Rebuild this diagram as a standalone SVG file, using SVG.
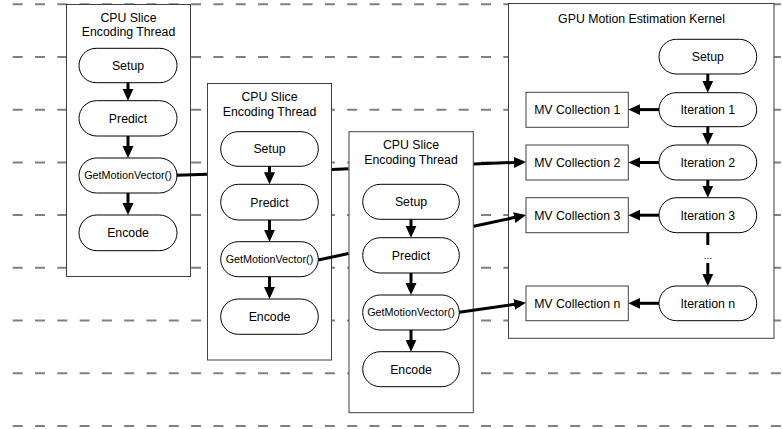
<svg xmlns="http://www.w3.org/2000/svg" width="782" height="429" viewBox="0 0 782 429">
<style>
.bg{fill:#fff}
.grid{stroke:#808080;stroke-width:2;stroke-dasharray:10 12.3;fill:none}
.box{fill:#fff;stroke:#404040;stroke-width:1}
.pill{fill:#fff;stroke:#000;stroke-width:1}
.rect{fill:#fff;stroke:#404040;stroke-width:1}
text{font-family:"Liberation Sans",Arial,sans-serif;font-size:12.3px;fill:#000;text-anchor:middle}
.small{font-size:10.8px}
.dots{font-size:10px}
.conn{stroke:#000;stroke-width:3;fill:none;marker-end:url(#ah)}
</style>
<defs>
<marker id="ah" markerUnits="userSpaceOnUse" markerWidth="12" markerHeight="12" viewBox="0 0 12 12" refX="1" refY="6" orient="auto">
<path d="M0,0.5 L12,6 L0,11.5 Z" fill="#000"/>
</marker>
</defs>
<rect class="bg" x="0" y="0" width="782" height="429"/>
<g id="gridlines">
<line class="grid" x1="12.7" y1="4.3" x2="782" y2="4.3"/>
<line class="grid" x1="12.7" y1="57" x2="782" y2="57"/>
<line class="grid" x1="12.7" y1="109.7" x2="782" y2="109.7"/>
<line class="grid" x1="12.7" y1="162.4" x2="782" y2="162.4"/>
<line class="grid" x1="12.7" y1="215.1" x2="782" y2="215.1"/>
<line class="grid" x1="12.7" y1="267.8" x2="782" y2="267.8"/>
<line class="grid" x1="12.7" y1="320.5" x2="782" y2="320.5"/>
<line class="grid" x1="12.7" y1="373.2" x2="782" y2="373.2"/>
<line class="grid" x1="12.7" y1="425.9" x2="782" y2="425.9"/>
</g>
<g id="thread1">
<rect class="box" x="66.5" y="4.5" width="124" height="272"/>
<text x="128.5" y="21.9">CPU Slice</text>
<text x="128.5" y="36">Encoding Thread</text>
<g id="t1-setup"><rect class="pill" x="79" y="48.3" width="98" height="34.4" rx="17.2"/><text x="128" y="69.9">Setup</text></g>
<g id="t1-predict"><rect class="pill" x="79" y="100.7" width="98" height="35.3" rx="17.6"/><text x="128" y="122.8">Predict</text></g>
<g id="t1-gmv"><rect class="pill" x="79" y="158" width="98" height="35" rx="17.5"/><text class="small" x="128" y="179.4">GetMotionVector()</text></g>
<g id="t1-encode"><rect class="pill" x="79" y="215" width="98" height="35.7" rx="17.8"/><text x="128" y="237.3">Encode</text></g>
</g>
<g id="thread2">
<rect class="box" x="207.5" y="83.5" width="124" height="276.5"/>
<text x="269.5" y="101.1">CPU Slice</text>
<text x="269.5" y="116">Encoding Thread</text>
<g id="t2-setup"><rect class="pill" x="220.7" y="131.7" width="97.6" height="34.6" rx="17.3"/><text x="269.5" y="153.4">Setup</text></g>
<g id="t2-predict"><rect class="pill" x="220.7" y="184.3" width="97.6" height="35.7" rx="17.8"/><text x="269.5" y="206.6">Predict</text></g>
<g id="t2-gmv"><rect class="pill" x="220.7" y="241.7" width="97.6" height="35" rx="17.5"/><text class="small" x="269.5" y="263.1">GetMotionVector()</text></g>
<g id="t2-encode"><rect class="pill" x="220.7" y="299" width="97.6" height="35.3" rx="17.6"/><text x="269.5" y="321.1">Encode</text></g>
</g>
<g id="thread3">
<rect class="box" x="349" y="131.7" width="124.3" height="281"/>
<text x="411" y="149.4">CPU Slice</text>
<text x="411" y="164.4">Encoding Thread</text>
<g id="t3-setup"><rect class="pill" x="362.7" y="184.3" width="96.6" height="35" rx="17.5"/><text x="411" y="206.2">Setup</text></g>
<g id="t3-predict"><rect class="pill" x="362.7" y="237.7" width="96.6" height="35.3" rx="17.6"/><text x="411" y="259.8">Predict</text></g>
<g id="t3-gmv"><rect class="pill" x="362.7" y="295" width="96.6" height="35" rx="17.5"/><text class="small" x="411" y="316.4">GetMotionVector()</text></g>
<g id="t3-encode"><rect class="pill" x="362.7" y="351.7" width="96.6" height="35" rx="17.5"/><text x="411" y="373.6">Encode</text></g>
</g>
<g id="gpu">
<rect class="box" x="508.5" y="3.5" width="265.5" height="334.8"/>
<text x="641.5" y="22.7">GPU Motion Estimation Kernel</text>
<g id="g-setup"><rect class="pill" x="659" y="39.3" width="97.7" height="34.7" rx="17.3"/><text x="707.8" y="61">Setup</text></g>
<g id="g-it1"><rect class="pill" x="659" y="92.7" width="97.7" height="34" rx="17"/><text x="707.8" y="114.1">Iteration 1</text></g>
<g id="g-it2"><rect class="pill" x="659" y="145" width="97.7" height="35" rx="17.5"/><text x="707.8" y="166.9">Iteration 2</text></g>
<g id="g-it3"><rect class="pill" x="659" y="197.7" width="97.7" height="35" rx="17.5"/><text x="707.8" y="219.6">Iteration 3</text></g>
<g id="g-itn"><rect class="pill" x="659" y="286" width="97.7" height="34.7" rx="17.3"/><text x="707.8" y="307.7">Iteration n</text></g>
<g id="g-mv1"><rect class="rect" x="526" y="92.3" width="102.3" height="35"/><text x="577.2" y="114.2">MV Collection 1</text></g>
<g id="g-mv2"><rect class="rect" x="526" y="145" width="102.3" height="35"/><text x="577.2" y="166.9">MV Collection 2</text></g>
<g id="g-mv3"><rect class="rect" x="526" y="197.7" width="102.3" height="35"/><text x="577.2" y="219.6">MV Collection 3</text></g>
<g id="g-mvn"><rect class="rect" x="526" y="286" width="102.3" height="34.7"/><text x="577.2" y="307.8">MV Collection n</text></g>
<text class="dots" x="707.8" y="259">...</text>
</g>
<g id="connectors">
<path class="conn" d="M128,82.7 V89.7"/>
<path class="conn" d="M128,136 V147"/>
<path class="conn" d="M128,193 V204"/>
<path class="conn" d="M269.5,166.3 V173.3"/>
<path class="conn" d="M269.5,220 V230.7"/>
<path class="conn" d="M269.5,276.7 V288"/>
<path class="conn" d="M411,219.3 V226.7"/>
<path class="conn" d="M411,273 V284"/>
<path class="conn" d="M411,330 V340.7"/>
<path class="conn" d="M707.8,74 V81.7"/>
<path class="conn" d="M707.8,126.7 V134"/>
<path class="conn" d="M707.8,180 V186.7"/>
<path class="conn" d="M707.8,232.7 V245 M707.8,263 V275"/>
<path class="conn" d="M659,109.6 H639.3"/>
<path class="conn" d="M659,162.5 H639.3"/>
<path class="conn" d="M659,215.2 H639.3"/>
<path class="conn" d="M659,303.3 H639.3"/>
<path class="conn" d="M176.7,175.3 L207,174.15 M332,169.4 L348.5,168.76 M473.8,164 L515,162.42"/>
<path class="conn" d="M318.3,260 L348.5,253.46 M473.8,226.3 L515.25,217.33"/>
<path class="conn" d="M459.3,312.3 L515.1,304.27"/>
</g>
</svg>
